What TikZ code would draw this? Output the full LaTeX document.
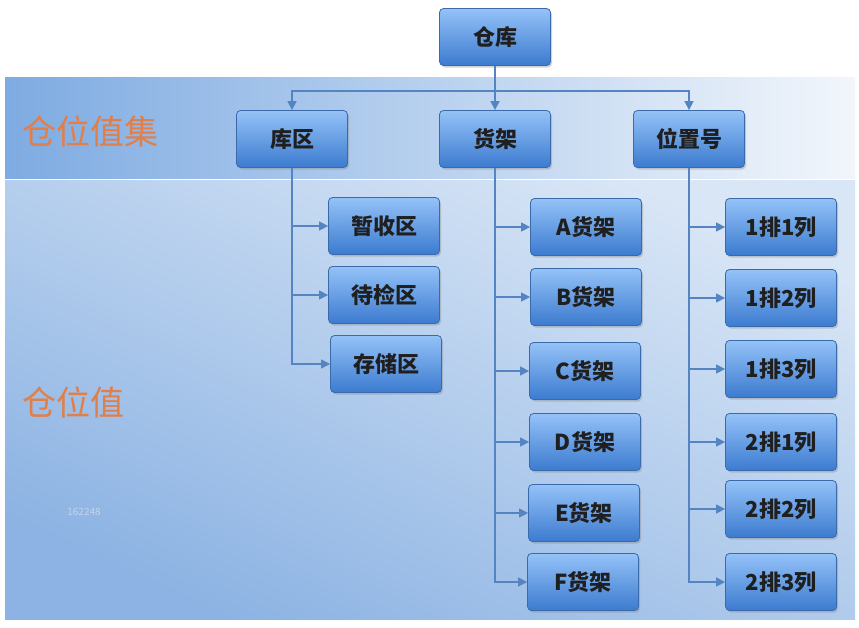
\documentclass[tikz,border=0pt]{standalone}
\usepackage{fontspec}
\newfontfamily\cjk{Noto Sans CJK SC}
\usetikzlibrary{shadows,arrows.meta}
\definecolor{bandL}{HTML}{7EABE2}
\definecolor{bandR}{HTML}{F2F6FB}
\definecolor{panT}{HTML}{D9E6F6}
\definecolor{panB}{HTML}{8CB3E3}
\definecolor{boxT}{HTML}{94C2F8}
\definecolor{boxB}{HTML}{3C7BCF}
\definecolor{boxD}{HTML}{3A6AAA}
\definecolor{lnc}{HTML}{5584C2}
\definecolor{orng}{HTML}{E27E48}
\definecolor{wm}{HTML}{C2D4EC}
\tikzset{
  bx/.style={draw=boxD, line width=0.8pt, rounded corners=4pt, top color=boxT, bottom color=boxB,
    minimum width=111pt, minimum height=57pt, inner sep=0pt,
    drop shadow={shadow xshift=1.5pt, shadow yshift=-2pt, opacity=0.35},
    font=\cjk\bfseries\fontsize{22}{22}\selectfont, text=black!88},
  arr/.style={draw=lnc, line width=1.3pt, -{Triangle[width=9pt,length=9pt]}},
  ln/.style={draw=lnc, line width=1.3pt},
  lab/.style={font=\cjk\fontsize{34}{34}\selectfont, text=orng}
}
\begin{document}
\begin{tikzpicture}[x=1pt,y=-1pt]
\useasboundingbox (0,0) rectangle (859,627);
\fill[white] (0,0) rectangle (859,627);
% backgrounds
\shade[left color=bandL, right color=bandR] (5,77) rectangle (855,178);
\shade[top color=panT, bottom color=panB, shading angle=-25] (5,180) rectangle (855,619);
% labels
\node[lab] (l1) at (90,131) {仓位值集};
\node[lab] (l2) at (73,402) {仓位值};
\node[font=\cjk\fontsize{10}{10}\selectfont, text=wm] (w) at (84,512) {162248};
% boxes
\node[bx] (ck) at (495,37) {仓库};
\node[bx] (kq) at (292,139) {库区};
\node[bx] (hj) at (495,139) {货架};
\node[bx] (wz) at (689,139) {位置号};
\node[bx] (zs) at (384,226) {暂收区};
\node[bx] (dj) at (384,295) {待检区};
\node[bx] (cc) at (386,364) {存储区};
\node[bx] (a) at (586,227) {A货架};
\node[bx] (b) at (586,297) {B货架};
\node[bx] (c) at (585,371) {C货架};
\node[bx] (d) at (585,442) {D货架};
\node[bx] (e) at (584,513) {E货架};
\node[bx] (f) at (583,582) {F货架};
\node[bx] (p11) at (781,227) {1排1列};
\node[bx] (p12) at (781,298) {1排2列};
\node[bx] (p13) at (781,369) {1排3列};
\node[bx] (p21) at (781,442) {2排1列};
\node[bx] (p22) at (781,509) {2排2列};
\node[bx] (p23) at (781,582) {2排3列};
% connectors
\coordinate (h) at (495,91);
\draw[ln] (ck.south) -- (h);
\draw[arr] (h) -| (kq.north);
\draw[arr] (h) -- (hj.north);
\draw[arr] (h) -| (wz.north);
\foreach \t in {zs,dj,cc} \draw[arr] (kq.south) |- (\t.west);
\foreach \t in {a,b,c,d,e,f} \draw[arr] (hj.south) |- (\t.west);
\foreach \t in {p11,p12,p13,p21,p22,p23} \draw[arr] (wz.south) |- (\t.west);
\end{tikzpicture}
\end{document}
